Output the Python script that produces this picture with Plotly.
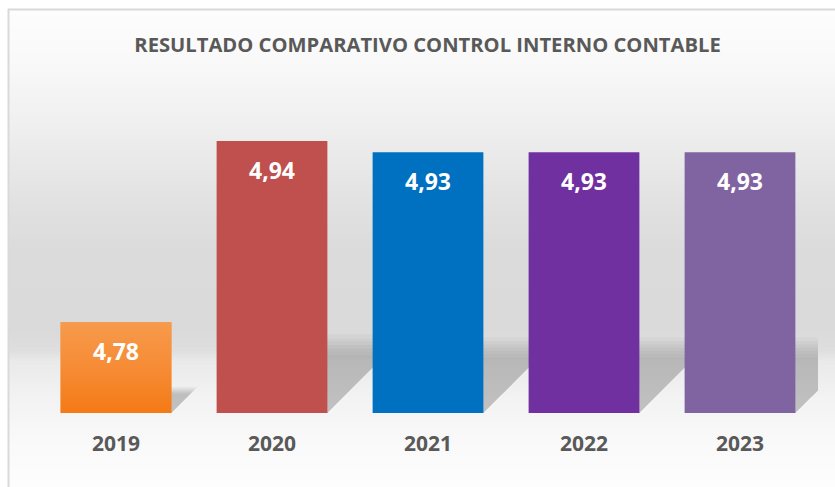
import numpy as np
import plotly.graph_objects as go

# ---------------- data ----------------
years = ["2019", "2020", "2021", "2022", "2023"]
values = [4.78, 4.94, 4.93, 4.93, 4.93]
value_labels = ["4,78", "4,94", "4,93", "4,93", "4,93"]
bar_colors = ["#f68a33", "#c0504d", "#0070c0", "#7030a0", "#8064a2"]
title_text = "RESULTADO COMPARATIVO CONTROL INTERNO CONTABLE"

# ---------------- layout geometry ----------------
W, H = 835, 487
ml, mr, mt, mb = 38, 17, 73, 74
ymin, ymax = 4.70, 5.00
bar_w = 0.71
plot_w = W - ml - mr
plot_h = H - mt - mb
px_per_cat = plot_w / 5.0
px_per_unit = plot_h / (ymax - ymin)

xs = list(range(len(years)))


def pxx(px):
    return (px - ml) / plot_w


def pxy(py):
    return (H - mb - py) / plot_h


fig = go.Figure()

# bars
fig.add_trace(go.Bar(
    x=xs, y=[v - ymin for v in values], base=ymin,
    width=bar_w, marker=dict(color=bar_colors, line=dict(width=0)),
    hoverinfo="skip", showlegend=False,
))

# gradient overlay for first bar (orange)
i0, v0 = xs[0], values[0]
fig.add_trace(go.Scatter(
    x=[i0 - bar_w / 2, i0 + bar_w / 2, i0 + bar_w / 2, i0 - bar_w / 2, i0 - bar_w / 2],
    y=[ymin, ymin, v0, v0, ymin],
    fill="toself", mode="lines", line=dict(width=0),
    fillgradient=dict(type="vertical", start=ymin, stop=v0,
                      colorscale=[[0, "#f47a14"], [0.45, "#f68a33"], [1, "#f79a4c"]]),
    hoverinfo="skip", showlegend=False,
))

# value labels
for i, v, t in zip(xs, values, value_labels):
    fig.add_annotation(
        x=i, y=v, text=t, showarrow=False, yshift=-29,
        yanchor="middle", xanchor="center",
        font=dict(family="Open Sans", size=23, color="white", weight="bold"),
    )

# background gradient strips
stops_py = [9, 60, 120, 200, 250, 330, 350, 362, 400, 440, 487]
stops_g = [253, 249, 240, 226, 219, 218, 222, 234, 243, 249, 253]
shapes = []
for py in range(9, H + 2, 2):
    g = int(round(np.interp(py + 1, stops_py, stops_g)))
    shapes.append(dict(
        type="rect", xref="paper", yref="paper", layer="below",
        x0=pxx(9), x1=pxx(W + 2), y0=pxy(py + 2.2), y1=pxy(py),
        fillcolor=f"rgb({g},{g},{g})", line=dict(width=0),
    ))

# soft (layered) perspective shadows behind the bars, derived from the data
for grow in [1.16, 1.10, 1.05, 1.0, 0.95, 0.90, 0.85]:
    for i, v in zip(xs, values):
        h = 0.25 * (v - ymin) * grow
        shift = h * px_per_unit / px_per_cat
        x0 = i - bar_w / 2
        x1 = i + bar_w / 2
        path = (f"M{x0},{ymin} L{x1},{ymin} L{x1 + shift},{ymin + h} "
                f"L{x0 + shift},{ymin + h} Z")
        shapes.append(dict(type="path", xref="x", yref="y", layer="below",
                           path=path, fillcolor="rgba(0,0,0,0.032)",
                           line=dict(width=0)))

# chart border (top & left visible)
shapes.append(dict(type="line", xref="paper", yref="paper", layer="below",
                   x0=pxx(8), x1=pxx(W + 2), y0=pxy(9.5), y1=pxy(9.5),
                   line=dict(color="#d9d9d9", width=2)))
shapes.append(dict(type="line", xref="paper", yref="paper", layer="below",
                   x0=pxx(8.5), x1=pxx(8.5), y0=pxy(9), y1=pxy(H + 2),
                   line=dict(color="#d9d9d9", width=2)))

fig.update_layout(
    width=W, height=H,
    margin=dict(l=ml, r=mr, t=mt, b=mb, pad=0),
    paper_bgcolor="white", plot_bgcolor="rgba(0,0,0,0)",
    barmode="overlay",
    shapes=shapes,
    title=dict(text=title_text, x=427.5 / W, xref="container", xanchor="center",
               y=1 - 45 / H, yref="container", yanchor="middle",
               font=dict(family="Open Sans", size=20.2, color="#595959", weight="bold")),
    xaxis=dict(range=[-0.5, 4.5], tickvals=xs, ticktext=years,
               showgrid=False, zeroline=False, showline=False, ticks="",
               ticklabelstandoff=16,
               tickfont=dict(family="Open Sans", size=21, color="#595959", weight="bold"),
               fixedrange=True),
    yaxis=dict(range=[ymin, ymax], visible=False, showgrid=False, zeroline=False,
               fixedrange=True),
    showlegend=False,
)

fig.write_html("out.html", config={"displayModeBar": False},
               post_script="document.body.style.margin='0';")
